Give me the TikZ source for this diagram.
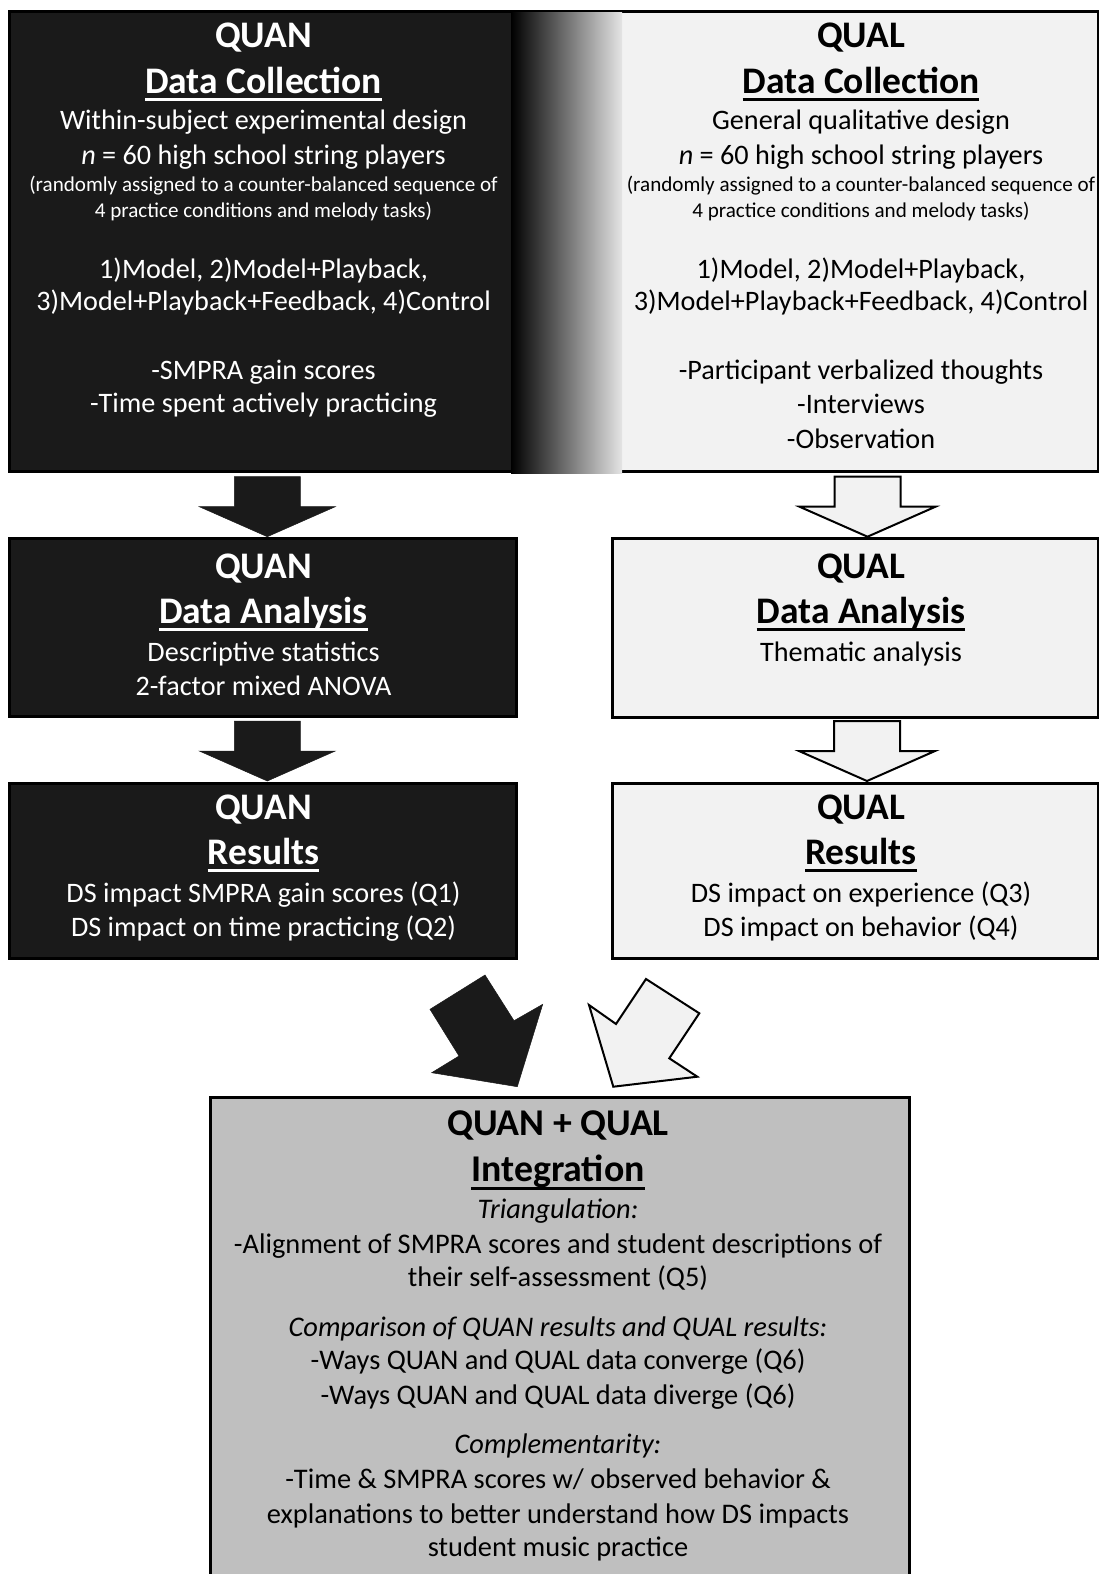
\documentclass[tikz,border=0pt]{standalone}
\usepackage{fontspec}
\setmainfont{Carlito}
\definecolor{dk}{HTML}{1A1A1A}
\definecolor{lt}{HTML}{F2F2F2}
\definecolor{gr}{HTML}{BFBFBF}
\definecolor{gend}{HTML}{E4E4E4}
\newcommand\ulx[1]{\setbox0\hbox{#1}\rlap{\rule[-8pt]{\wd0}{2.6pt}}\box0}
\tikzset{
  box/.style={draw=black, line width=3pt, inner sep=0pt, anchor=north west},
  darkbox/.style={box, fill=dk},
  lightbox/.style={box, fill=lt},
  graybox/.style={box, fill=gr},
  ttl/.style={anchor=base, inner sep=0pt, font=\fontsize{37.5}{42}\selectfont\bfseries},
  txt/.style={anchor=base, inner sep=0pt, font=\fontsize{28.2}{32}\selectfont},
  sml/.style={anchor=base, inner sep=0pt, font=\fontsize{21.1}{25}\selectfont},
  bttl/.style={anchor=base, inner sep=0pt, font=\fontsize{37.8}{42}\selectfont\bfseries},
  btxt/.style={anchor=base, inner sep=0pt, font=\fontsize{28.4}{32}\selectfont},
  wt/.style={text=white},
  darkarrow/.style={fill=dk, draw=dk, line width=0.5pt},
  lightarrow/.style={fill=lt, draw=black, line width=2pt, line join=miter},
  pics/downarr/.style={code={
    \path[pic actions] (-33,-60) -- (33,-60) -- (33,-30) -- (68,-30) -- (0,0)
      -- (-68,-30) -- (-33,-30) -- cycle;}}
}
\begin{document}
\begin{tikzpicture}[x=1pt,y=-1pt]
\useasboundingbox[fill=white] (0,0) rectangle (1099,1574);

% ---------- top row ----------
\node[lightbox, minimum width=586pt, minimum height=460pt] (qualDC) at (511,10) {};
\node[darkbox, minimum width=507pt, minimum height=460pt] (quanDC) at (8,10) {};
\shade[left color=black, right color=gend] (511,12.7) rectangle (622,473);

\node[ttl, wt] (t1) at (263.5,47.5) {QUAN};
\node[ttl, wt] (t2) at (263.5,93) {\ulx{Data Collection}};
\node[txt, wt] (t3) at (263.5,129.5) {Within-subject experimental design};
\node[txt, wt] (t4) at (263.5,164.5) {\textit{n} = 60 high school string players};
\node[sml, wt] (t5) at (263.5,191) {(randomly assigned to a counter-balanced sequence of};
\node[sml, wt] (t6) at (263.5,217.5) {4 practice conditions and melody tasks)};
\node[txt, wt] (t7) at (263.5,278) {1)Model, 2)Model+Playback,};
\node[txt, wt] (t8) at (263.5,310) {3)Model+Playback+Feedback, 4)Control};
\node[txt, wt] (t9) at (263.5,379.5) {-SMPRA gain scores};
\node[txt, wt] (t10) at (263.5,412.5) {-Time spent actively practicing};

\node[ttl] (r1) at (861,47.5) {QUAL};
\node[ttl] (r2) at (861,93) {\ulx{Data Collection}};
\node[txt] (r3) at (861,129.5) {General qualitative design};
\node[txt] (r4) at (861,164.5) {\textit{n} = 60 high school string players};
\node[sml] (r5) at (861,191) {(randomly assigned to a counter-balanced sequence of};
\node[sml] (r6) at (861,217.5) {4 practice conditions and melody tasks)};
\node[txt] (r7) at (861,278) {1)Model, 2)Model+Playback,};
\node[txt] (r8) at (861,310) {3)Model+Playback+Feedback, 4)Control};
\node[txt] (r9) at (861,379.5) {-Participant verbalized thoughts};
\node[txt] (r10) at (861,413) {-Interviews};
\node[txt] (r11) at (861,448) {-Observation};

% ---------- middle row ----------
\node[darkbox, minimum width=507pt, minimum height=178pt] (quanDA) at (8,537) {};
\node[lightbox, minimum width=486pt, minimum height=179pt] (qualDA) at (611,537) {};

\node[ttl, wt] (a1) at (263.5,578) {QUAN};
\node[ttl, wt] (a2) at (263.5,623) {\ulx{Data Analysis}};
\node[txt, wt] (a3) at (263.5,661) {Descriptive statistics};
\node[txt, wt] (a4) at (263.5,695) {2-factor mixed ANOVA};

\node[ttl] (b1) at (861,578) {QUAL};
\node[ttl] (b2) at (861,623) {\ulx{Data Analysis}};
\node[txt] (b3) at (861,661) {Thematic analysis};

% ---------- results row ----------
\node[darkbox, minimum width=507pt, minimum height=175pt] (quanR) at (8,782) {};
\node[lightbox, minimum width=486pt, minimum height=175pt] (qualR) at (611,782) {};

\node[ttl, wt] (c1) at (263.5,819) {QUAN};
\node[ttl, wt] (c2) at (263.5,864) {\ulx{Results}};
\node[txt, wt] (c3) at (263.5,902.5) {DS impact SMPRA gain scores (Q1)};
\node[txt, wt] (c4) at (263.5,936.5) {DS impact on time practicing (Q2)};

\node[ttl] (d1) at (861,819) {QUAL};
\node[ttl] (d2) at (861,864) {\ulx{Results}};
\node[txt] (d3) at (861,902.5) {DS impact on experience (Q3)};
\node[txt] (d4) at (861,936.5) {DS impact on behavior (Q4)};

% ---------- down arrows ----------
\pic[darkarrow] at (267.3,536.7) {downarr};
\pic[lightarrow] at (867.5,536.7) {downarr};
\pic[darkarrow] at (267.3,781) {downarr};
\pic[lightarrow] at (867,781) {downarr};

% ---------- diagonal arrows ----------
\path[darkarrow] (430,1009.3) -- (485,975) -- (514,1020.7) -- (542.7,1004.3)
  -- (517.3,1086.7) -- (431.7,1072.7) -- (459,1056) -- cycle;
\path[lightarrow] (646,979) -- (699.3,1013.3) -- (669.3,1058.3) -- (697.3,1076.7)
  -- (613.3,1086.7) -- (589,1005) -- (616,1024) -- cycle;

% ---------- integration box ----------
\node[graybox, minimum width=699pt, minimum height=500pt] (integ) at (209,1096) {};

\node[bttl] (e1) at (558,1135) {QUAN + QUAL};
\node[bttl] (e2) at (558,1181.5) {\ulx{Integration}};
\node[btxt] (e3) at (558,1218) {\textit{Triangulation:}};
\node[btxt] (e4) at (558,1253) {-Alignment of SMPRA scores and student descriptions of};
\node[btxt] (e5) at (558,1286) {their self-assessment (Q5)};
\node[btxt] (e6) at (558,1336) {\textit{Comparison of QUAN results and QUAL results:}};
\node[btxt] (e7) at (558,1369.5) {-Ways QUAN and QUAL data converge (Q6)};
\node[btxt] (e8) at (558,1404.5) {-Ways QUAN and QUAL data diverge (Q6)};
\node[btxt] (e9) at (558,1453) {\textit{Complementarity:}};
\node[btxt] (e10) at (558,1488) {-Time \& SMPRA scores w/ observed behavior \&};
\node[btxt] (e11) at (558,1523) {explanations to better understand how DS impacts};
\node[btxt] (e12) at (558,1556) {student music practice};
\end{tikzpicture}
\end{document}
